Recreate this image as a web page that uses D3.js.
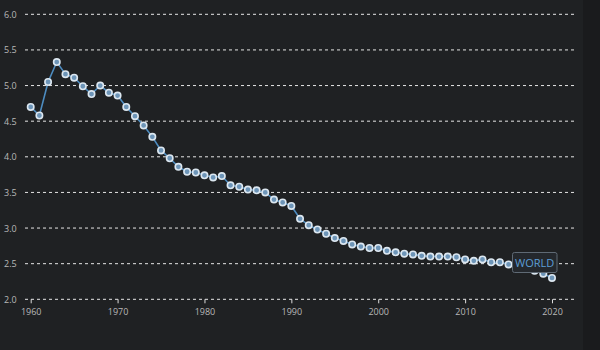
<!DOCTYPE html>
<html><head><meta charset="utf-8">
<script src="https://cdn.jsdelivr.net/npm/d3@7"></script>
<style>
html,body{margin:0;padding:0;background:#1f2123;}
svg{display:block;}
</style></head>
<body>
<svg id="chart" width="600" height="350"></svg>
<script>
const years = d3.range(1960, 2021);
const values = [4.70,4.58,5.05,5.33,5.16,5.11,4.99,4.88,5.00,4.90,
  4.86,4.70,4.57,4.44,4.28,4.09,3.98,3.86,3.79,3.78,
  3.74,3.71,3.73,3.60,3.58,3.54,3.53,3.50,3.40,3.36,
  3.31,3.13,3.04,2.98,2.92,2.86,2.82,2.77,2.74,2.72,
  2.72,2.68,2.66,2.64,2.63,2.61,2.60,2.60,2.60,2.59,
  2.56,2.54,2.56,2.52,2.52,2.49,2.47,2.44,2.40,2.36,2.30];
const yTicks = [2.0,2.5,3.0,3.5,4.0,4.5,5.0,5.5,6.0];
const xTicks = [1960,1970,1980,1990,2000,2010,2020];
const seriesName = "WORLD";

const svg = d3.select("#chart");
svg.append("rect").attr("x",583).attr("y",0).attr("width",17).attr("height",350).attr("fill","#1a1b1d");

const x = d3.scaleLinear().domain([1960,2020]).range([30.7,552]);
const y = d3.scaleLinear().domain([2,6]).range([299.3,14.3]);

// grid
const gy = svg.append("g");
gy.selectAll("line").data(yTicks).join("line")
  .attr("x1",25).attr("x2",574)
  .attr("y1",d=>y(d)).attr("y2",d=>y(d))
  .attr("stroke","#e6e6e6").attr("stroke-width",1).attr("stroke-dasharray","3,3");
gy.selectAll("text").data(yTicks).join("text")
  .attr("x",4).attr("y",d=>y(d)+3.5)
  .attr("fill","#b8b8b8").attr("font-family","Open Sans, sans-serif").attr("font-size",9)
  .text(d=>d.toFixed(1));

// x axis
const xAxis = d3.axisBottom(x).tickValues(xTicks).tickFormat(d3.format("d")).tickSize(4).tickPadding(5);
const gx = svg.append("g").attr("transform",`translate(0,${y(2)})`).call(xAxis);
gx.select(".domain").remove();
gx.selectAll(".tick line").attr("stroke","#dddddd");
gx.selectAll(".tick text").attr("fill","#b8b8b8").attr("font-family","Open Sans, sans-serif").attr("font-size",9);

const data = years.map((yr,i)=>({yr, v: values[i]}));
svg.append("path").datum(data)
  .attr("fill","none").attr("stroke","#4d8cc0").attr("stroke-width",1.6)
  .attr("d", d3.line().x(d=>x(d.yr)).y(d=>y(d.v)));
svg.append("g").selectAll("circle").data(data).join("circle")
  .attr("cx",d=>x(d.yr)).attr("cy",d=>y(d.v)).attr("r",3.2)
  .attr("fill","#6d95b8").attr("stroke","#dce7f0").attr("stroke-width",1.6);

// label
const last = data[data.length-1];
const lg = svg.append("g");
lg.append("rect").attr("x",512.5).attr("y",252.5).attr("width",44.5).attr("height",20).attr("rx",2)
  .attr("fill","#24282d").attr("stroke","#5f6a75").attr("stroke-width",1);
lg.append("text").attr("x",534.7).attr("y",266.5).attr("text-anchor","middle")
  .attr("fill","#5c9ed6").attr("font-family","Open Sans, sans-serif").attr("font-size",11)
  .text(seriesName);
</script>
</body></html>
